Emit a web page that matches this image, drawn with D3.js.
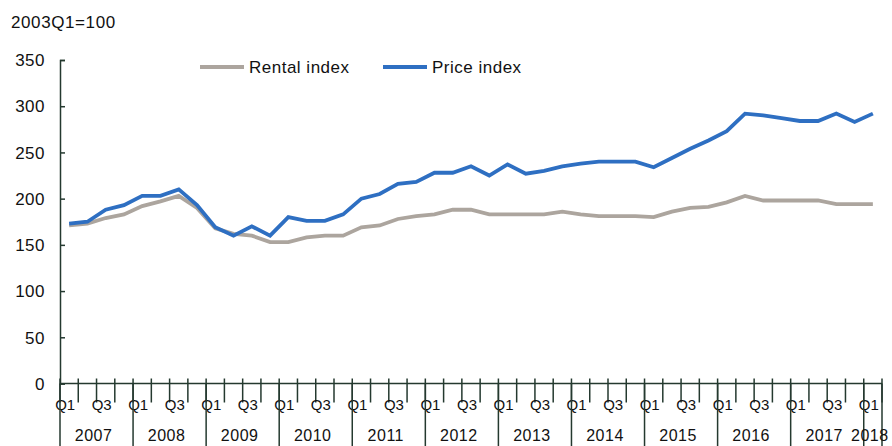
<!DOCTYPE html>
<html>
<head>
<meta charset="utf-8">
<script src="https://cdn.jsdelivr.net/npm/d3@7"></script>
<style>
  body { margin: 0; background: #fff; }
  svg text { font-family: 'Liberation Sans', Arial, sans-serif; fill: #111; }
</style>
</head>
<body>
<svg width="892" height="446"></svg>
<script>
const years = ['2007', '2008', '2009', '2010', '2011', '2012', '2013', '2014', '2015', '2016', '2017', '2018']
const quarters = ['Q1', 'Q2', 'Q3', 'Q4']
const yTicks = [0, 50, 100, 150, 200, 250, 300, 350]

const rental = [171, 173, 179, 183, 192, 197, 203, 190, 168, 162, 160, 153, 153, 158, 160, 160,
  169, 171, 178, 181, 183, 188, 188, 183, 183, 183, 183, 186, 183, 181, 181, 181,
  180, 186, 190, 191, 196, 203, 198, 198, 198, 198, 194, 194, 194]
const price = [173, 175, 188, 193, 203, 203, 210, 193, 169, 160, 170, 160, 180, 176, 176, 183,
  200, 205, 216, 218, 228, 228, 235, 225, 237, 227, 230, 235, 238, 240, 240, 240,
  234, 244, 254, 263, 273, 292, 290, 287, 284, 284, 292, 283, 292]

const periods = []
years.forEach(y => quarters.forEach(q => periods.push({ year: y, q: q, key: y + q })))
const data = periods.slice(0, rental.length).map((p, i) => ({ ...p, rental: rental[i], price: price[i] }))

const svg = d3.select('svg')
const margin = { top: 60, right: 10, bottom: 62.5, left: 60 }
const width = +svg.attr('width')
const height = +svg.attr('height')
const innerWidth = width - margin.left - margin.right
const innerHeight = height - margin.top - margin.bottom
const axisColor = '#24392f'

const xScale = d3.scaleBand()
  .domain(data.map(d => d.key))
  .range([0, innerWidth])

const yScale = d3.scaleLinear()
  .domain([0, 350])
  .range([innerHeight, 0])

const g = svg.append('g')
  .attr('transform', `translate(${margin.left}, ${margin.top})`)

// y axis, ticks pointing into the plot
const yAxisG = g.append('g')
  .call(d3.axisLeft(yScale).tickValues(yTicks).tickSize(-5).tickPadding(15))
yAxisG.select('.domain').attr('stroke', axisColor).attr('stroke-width', 1.5)
yAxisG.selectAll('.tick line').attr('stroke', axisColor).attr('stroke-width', 1.5)
yAxisG.selectAll('.tick text').attr('font-size', 17).attr('dy', '0.34em')
  .attr('letter-spacing', 0.5)
  .style('font-family', "'Liberation Sans', Arial, sans-serif").attr('fill', '#111')

// x axis
const xAxisG = g.append('g').attr('transform', `translate(0, ${innerHeight})`)
xAxisG.append('line')
  .attr('x1', 0).attr('x2', innerWidth)
  .attr('stroke', axisColor).attr('stroke-width', 1.5)

const boundaries = data.map(d => xScale(d.key)).concat([innerWidth])
xAxisG.selectAll('.qtick').data(boundaries)
  .enter().append('line')
  .attr('class', 'qtick')
  .attr('x1', d => d).attr('x2', d => d)
  .attr('y1', -5).attr('y2', 19)
  .attr('stroke', axisColor).attr('stroke-width', 1.5)

xAxisG.selectAll('.qlabel').data(data.filter(d => d.q === 'Q1' || d.q === 'Q3'))
  .enter().append('text')
  .attr('class', 'qlabel')
  .attr('x', d => xScale(d.key) + xScale.bandwidth() / 2 - 4)
  .attr('y', 26)
  .attr('text-anchor', 'middle')
  .attr('font-size', 15)
  .text(d => d.q)

const yearGroups = d3.groups(data, d => d.year).map(([year, items]) => ({
  year,
  x0: xScale(items[0].key),
  x1: xScale(items[items.length - 1].key) + xScale.bandwidth()
}))

xAxisG.selectAll('.ysep').data(yearGroups.map(d => d.x0).concat([innerWidth]))
  .enter().append('line')
  .attr('class', 'ysep')
  .attr('x1', d => d).attr('x2', d => d)
  .attr('y1', 0).attr('y2', margin.bottom)
  .attr('stroke', axisColor).attr('stroke-width', 1.5)

xAxisG.selectAll('.ylabel').data(yearGroups)
  .enter().append('text')
  .attr('class', 'ylabel')
  .attr('x', d => (d.x0 + d.x1) / 2 - 3)
  .attr('y', 57)
  .attr('text-anchor', 'middle')
  .attr('font-size', 16)
  .attr('letter-spacing', 0.5)
  .text(d => d.year)

// lines
const series = [
  { name: 'Rental index', key: 'rental', color: '#aca59e' },
  { name: 'Price index', key: 'price', color: '#2e6fc2' }
]

series.forEach(s => {
  const line = d3.line()
    .x(d => xScale(d.key) + xScale.bandwidth() / 2)
    .y(d => yScale(d[s.key]))
  g.append('path')
    .datum(data)
    .attr('fill', 'none')
    .attr('stroke', s.color)
    .attr('stroke-width', 3.8)
    .attr('stroke-linejoin', 'miter')
    .attr('d', line)
})

// title
svg.append('text')
  .attr('x', 11)
  .attr('y', 28)
  .attr('font-size', 17)
  .attr('letter-spacing', 0.6)
  .text('2003Q1=100')

// legend
const legendX = [200, 383]
const legend = svg.append('g')
series.forEach((s, i) => {
  legend.append('line')
    .attr('x1', legendX[i]).attr('x2', legendX[i] + 44)
    .attr('y1', 67).attr('y2', 67)
    .attr('stroke', s.color).attr('stroke-width', 4)
  legend.append('text')
    .attr('x', legendX[i] + 49)
    .attr('y', 73)
    .attr('font-size', 17)
    .attr('letter-spacing', 0.5)
    .text(s.name)
})
</script>
</body>
</html>
